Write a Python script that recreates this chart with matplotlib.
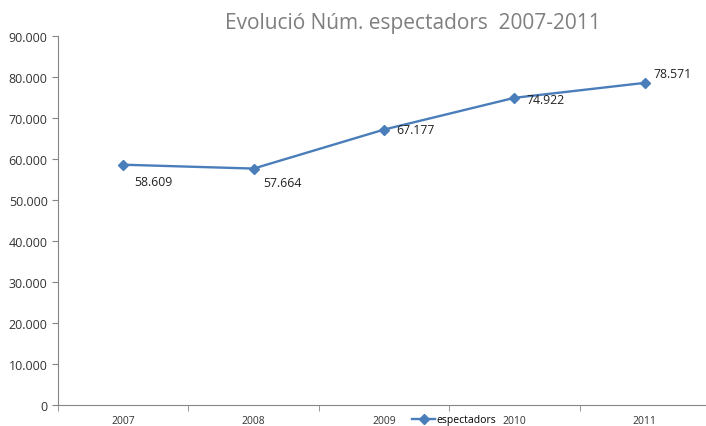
import numpy as np
import matplotlib.pyplot as plt
from matplotlib.ticker import FuncFormatter, FixedLocator

# Data
years = ['2007', '2008', '2009', '2010', '2011']
espectadors = [58609, 57664, 67177, 74922, 78571]
label_offsets = [(8, -12), (7, -10), (9, 0), (9, -1), (6.5, 7)]

plt.rcParams['font.family'] = ['Open Sans', 'DejaVu Sans']

fig = plt.figure(figsize=(7.06, 4.27), dpi=100)
ax = fig.add_axes([58 / 706, 21 / 427, 652 / 706, 369 / 427])

x = np.arange(len(years))
line_color = '#4a7ebb'
ax.plot(x, espectadors, color=line_color, linewidth=1.7, marker='D',
        markersize=5.5, label='espectadors')

# Data labels
for xi, val, (dx, dy) in zip(x, espectadors, label_offsets):
    txt = f'{val:,}'.replace(',', '.')
    ax.annotate(txt, (xi, val), xytext=(dx, dy), textcoords='offset points',
                fontsize=8.8, color='#222222', va='center', ha='left')

ax.set_xlim(-0.5, len(years) - 0.5)
ax.set_ylim(0, 90000)
ax.set_yticks(np.arange(0, 90001, 10000))
ax.yaxis.set_major_formatter(FuncFormatter(
    lambda v, p: '0' if v == 0 else f'{int(v):,}'.replace(',', '.')))

# Category axis: labels centred, tick marks between categories
ax.set_xticks(x)
ax.set_xticklabels(years)
ax.xaxis.set_minor_locator(FixedLocator(np.arange(-0.5, len(years), 1.0)))
ax.tick_params(axis='x', which='major', length=0, labelsize=7.5, pad=7.5, colors='#333333')
ax.tick_params(axis='x', which='minor', length=4, color='#868686')
ax.tick_params(axis='y', length=4, color='#868686', labelsize=9, labelcolor='#333333')

for side in ['top', 'right']:
    ax.spines[side].set_visible(False)
for side in ['left', 'bottom']:
    ax.spines[side].set_color('#868686')
    ax.spines[side].set_linewidth(0.8)

fig.text(413 / 706, 1 - 23 / 427, 'Evolució Núm. espectadors  2007-2011',
         ha='center', va='center', fontsize=15, color='#7f7f7f')

leg = ax.legend(loc='center left', bbox_to_anchor=(407 / 706, 1 - 421 / 427),
                bbox_transform=fig.transFigure, frameon=False, fontsize=7.5,
                handlelength=2.2, handletextpad=0.1, borderpad=0)

fig.savefig('out.png', dpi=100)
